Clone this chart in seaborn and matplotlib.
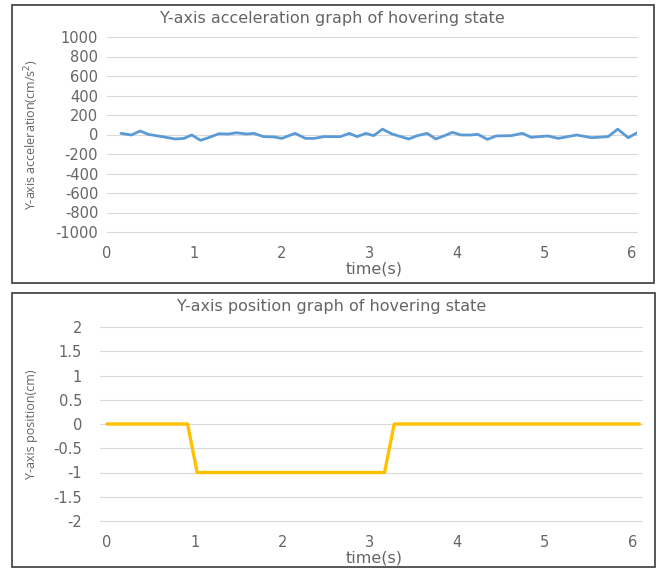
import matplotlib
matplotlib.use("Agg")
import matplotlib.pyplot as plt
import seaborn as sns
import pandas as pd
from matplotlib.patches import Rectangle

# ---------------- data ----------------
acc_time = [0.16, 0.28, 0.38, 0.47, 0.63, 0.78, 0.88, 0.97, 1.07, 1.16, 1.28, 1.39,
            1.48, 1.60, 1.68, 1.79, 1.91, 2.00, 2.15, 2.27, 2.37, 2.48, 2.67, 2.77,
            2.86, 2.96, 3.05, 3.15, 3.26, 3.45, 3.55, 3.66, 3.76, 3.86, 3.95, 4.05,
            4.16, 4.24, 4.35, 4.45, 4.62, 4.75, 4.85, 5.04, 5.16, 5.37, 5.54, 5.73,
            5.84, 5.96, 6.07]
acc_value = [12, -5, 36, 2, -22, -46, -40, -5, -60, -33, 8, 5,
             18, 5, 12, -22, -25, -40, 12, -40, -40, -22, -22, 12,
             -22, 12, -12, 55, 5, -46, -12, 12, -46, -12, 22, -5,
             -5, 2, -50, -15, -12, 12, -29, -15, -40, -5, -33, -22,
             55, -33, 22]

pos_time = [0.0, 0.92, 1.03, 3.17, 3.28, 6.08]
pos_value = [0, 0, -1, -1, 0, 0]

x_ticks = [0, 1, 2, 3, 4, 5, 6]
acc_ticks = [1000, 800, 600, 400, 200, 0, -200, -400, -600, -800, -1000]
pos_ticks = [2, 1.5, 1, 0.5, 0, -0.5, -1, -1.5, -2]

title_acc = "Y-axis acceleration graph of hovering state"
title_pos = "Y-axis position graph of hovering state"
ylabel_acc = "Y-axis acceleration(cm/s$^2$)"
ylabel_pos = "Y-axis position(cm)"
xlabel = "time(s)"

# ---------------- style ----------------
sns.set_style("white")
plt.rcParams["font.family"] = ["DejaVu Sans"]

W, H = 661, 571
fig = plt.figure(figsize=(W / 100, H / 100), dpi=100)

TXT = "#656565"
GRID = "#d9d9d9"


def px_axes(left, right, top, bottom):
    return fig.add_axes([left / W, (H - bottom) / H, (right - left) / W, (bottom - top) / H])


def style_axes(ax, ylim, yticks, xlim, ylabel_txt, title_txt, left, right, top, bottom,
               ypad, label_x, title_y):
    ax.set_xlim(*xlim)
    ax.set_ylim(*ylim)
    ax.set_xticks(x_ticks)
    ax.set_yticks(yticks)
    ax.set_yticklabels([f"{v:g}" for v in yticks])
    ax.grid(axis="y", color=GRID, linewidth=0.8)
    ax.grid(axis="x", visible=False)
    for gl in ax.get_ygridlines():
        gl.set_clip_on(False)
    for s in ax.spines.values():
        s.set_visible(False)
    ax.tick_params(axis="both", length=0, labelcolor=TXT, labelsize=10.5)
    ax.tick_params(axis="y", pad=ypad)
    ax.tick_params(axis="x", pad=10)
    w = right - left
    h = bottom - top
    ax.set_ylabel(ylabel_txt, color=TXT, fontsize=9, family=["Open Sans", "DejaVu Sans"],
                  va="center")
    ax.yaxis.set_label_coords((label_x - left) / w, 0.5)
    ax.set_xlabel(xlabel, color=TXT, fontsize=11.5, va="center")
    ax.xaxis.set_label_coords((374 - left) / w, -37 / h)
    cx = (332 - left) / w
    ax.text(cx, 1 + (top - title_y) / h, title_txt, transform=ax.transAxes,
            ha="center", va="center", fontsize=11.5, color=TXT)


# ---------------- top: acceleration ----------------
L1, R1, T1, B1 = 106.5, 637, 37, 232
ax1 = px_axes(L1, R1, T1, B1)
df_acc = pd.DataFrame({"time": acc_time, "acc": acc_value})
sns.lineplot(data=df_acc, x="time", y="acc", ax=ax1, color="#5b9bd5", linewidth=2.0,
             sort=False, estimator=None)
style_axes(ax1, (-1000, 1000), acc_ticks, (-0.005, 6.06), ylabel_acc, title_acc,
           L1, R1, T1, B1, ypad=6, label_x=32, title_y=18)

# ---------------- bottom: position ----------------
L2, R2, T2, B2 = 100, 642, 327, 521
ax2 = px_axes(L2, R2, T2, B2)
df_pos = pd.DataFrame({"time": pos_time, "pos": pos_value})
sns.lineplot(data=df_pos, x="time", y="pos", ax=ax2, color="#ffc000", linewidth=2.4,
             sort=False, estimator=None)
style_axes(ax2, (-2, 2), pos_ticks, (-0.08, 6.11), ylabel_pos, title_pos,
           L2, R2, T2, B2, ypad=13, label_x=32, title_y=307)

# ---------------- chart-area frames ----------------
for (x0, y0, x1, y1) in [(11.5, 5, 653.5, 283), (11.5, 292.5, 654.5, 567)]:
    fig.add_artist(Rectangle((x0 / W, (H - y1) / H), (x1 - x0) / W, (y1 - y0) / H,
                             transform=fig.transFigure, fill=False,
                             edgecolor="#3a3a3a", linewidth=1.2))

fig.savefig("out.png", dpi=100, facecolor="white")
